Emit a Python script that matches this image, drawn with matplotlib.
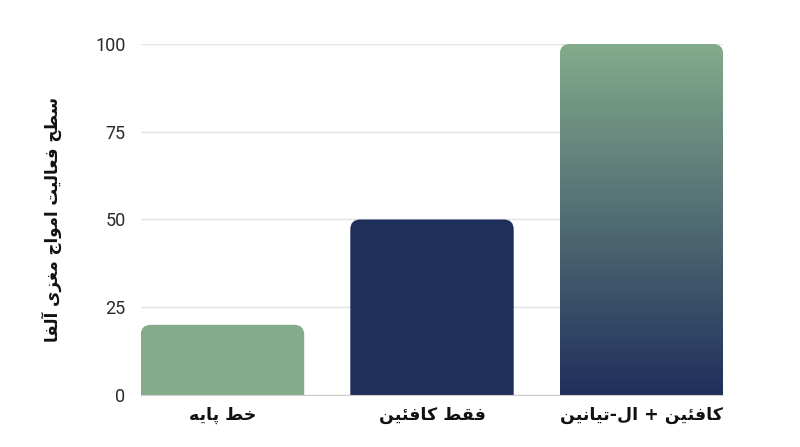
# %% Setup
import matplotlib

matplotlib.use("Agg")
import matplotlib.pyplot as plt
import numpy as np
from matplotlib.colors import LinearSegmentedColormap
from matplotlib.patches import FancyBboxPatch

plt.rcParams["font.family"] = ["Roboto", "DejaVu Sans"]

categories = ["خط پایه", "فقط کافئین", "کافئین + ال-تیانین"]
values = [20, 50, 100]
yticks = [0, 25, 50, 75, 100]
ylabel = "سطح فعالیت امواج مغزی آلفا"

green = "#84ab8b"
navy = "#1f2f5c"
bar_colors = [green, navy, None]  # None -> gradient green to navy

# %% Minimal Persian shaping (matplotlib has no complex text layout)
# forms: isolated, final, initial, medial
FORMS = {
    "ا": (0xFE8D, 0xFE8E), "آ": (0xFE81, 0xFE82), "ز": (0xFEAF, 0xFEB0),
    "و": (0xFEED, 0xFEEE),
    "ت": (0xFE95, 0xFE96, 0xFE97, 0xFE98), "ج": (0xFE9D, 0xFE9E, 0xFE9F, 0xFEA0),
    "ح": (0xFEA1, 0xFEA2, 0xFEA3, 0xFEA4), "خ": (0xFEA5, 0xFEA6, 0xFEA7, 0xFEA8),
    "س": (0xFEB1, 0xFEB2, 0xFEB3, 0xFEB4), "ط": (0xFEC1, 0xFEC2, 0xFEC3, 0xFEC4),
    "ع": (0xFEC9, 0xFECA, 0xFECB, 0xFECC), "غ": (0xFECD, 0xFECE, 0xFECF, 0xFED0),
    "ف": (0xFED1, 0xFED2, 0xFED3, 0xFED4), "ق": (0xFED5, 0xFED6, 0xFED7, 0xFED8),
    "ل": (0xFEDD, 0xFEDE, 0xFEDF, 0xFEE0), "م": (0xFEE1, 0xFEE2, 0xFEE3, 0xFEE4),
    "ن": (0xFEE5, 0xFEE6, 0xFEE7, 0xFEE8), "ه": (0xFEE9, 0xFEEA, 0xFEEB, 0xFEEC),
    "ئ": (0xFE89, 0xFE8A, 0xFE8B, 0xFE8C), "ی": (0xFBFC, 0xFBFD, 0xFBFE, 0xFBFF),
    "پ": (0xFB56, 0xFB57, 0xFB58, 0xFB59), "ک": (0xFB8E, 0xFB8F, 0xFB90, 0xFB91),
}


def shape(text):
    out = []
    for i, ch in enumerate(text):
        if ch not in FORMS:
            out.append(ch)
            continue
        prev = text[i - 1] if i > 0 else ""
        nxt = text[i + 1] if i + 1 < len(text) else ""
        join_prev = prev in FORMS and len(FORMS[prev]) == 4
        join_next = len(FORMS[ch]) == 4 and nxt in FORMS
        f = FORMS[ch]
        if join_prev and join_next:
            out.append(chr(f[3]))
        elif join_prev:
            out.append(chr(f[1]))
        elif join_next:
            out.append(chr(f[2]))
        else:
            out.append(chr(f[0]))
    return "".join(out)[::-1]


# %% Plot
fig = plt.figure(figsize=(8, 4.47), dpi=100)
ax = fig.add_axes([0.176, 0.1163, 0.728, 0.7853])

x = np.arange(len(categories))
width = 0.78
bars = ax.bar(x, values, width=width, color="none", edgecolor="none")
ax.set_xlim(-0.39, len(categories) - 1 + 0.39)
ax.set_ylim(0, 100)

# radius in pixels -> data units
fig.canvas.draw()
px_x = (ax.transData.transform((1, 0))[0] - ax.transData.transform((0, 0))[0])
px_y = (ax.transData.transform((0, 1))[1] - ax.transData.transform((0, 0))[1])
radius_px = 10
rx = radius_px / px_x
aspect = px_x / px_y

cmap = LinearSegmentedColormap.from_list("g2n", [navy, green])
for bar, color in zip(bars, bar_colors):
    x0, h = bar.get_x(), bar.get_height()
    w = bar.get_width()
    y0 = -radius_px / px_y * 2
    patch = FancyBboxPatch(
        (x0, y0), w, h - y0,
        boxstyle=f"round,pad=0,rounding_size={rx}",
        mutation_aspect=aspect,
        facecolor=color if color else "none",
        edgecolor="none",
        zorder=2,
    )
    ax.add_patch(patch)
    if color is None:
        grad = np.linspace(0, 1, 256).reshape(-1, 1)
        im = ax.imshow(
            grad, cmap=cmap, origin="lower", aspect="auto",
            extent=(x0, x0 + w, 0, h), zorder=2, interpolation="bilinear",
        )
        im.set_clip_path(patch)
ax.set_xlim(-0.39, len(categories) - 1 + 0.39)
ax.set_ylim(0, 100)

ax.set_yticks(yticks)
ax.set_xticks(x)
ax.set_xticklabels(
    [shape(c) for c in categories], family=["DejaVu Sans"],
    fontweight="bold", fontsize=12.5, color="#111111",
)
ax.tick_params(axis="y", length=0, pad=11, labelsize=13, labelcolor="#2a2a2a")
ax.tick_params(axis="x", length=0, pad=8)
ax.set_ylabel(
    shape(ylabel), family=["DejaVu Sans"], fontweight="bold",
    fontsize=12, color="#111111", labelpad=24,
)

ax.grid(axis="y", color="#e3e3e3", lw=1)
ax.set_axisbelow(True)
for side in ["top", "right", "left"]:
    ax.spines[side].set_visible(False)
ax.spines["bottom"].set_color("#cccccc")
ax.spines["bottom"].set_zorder(3)

fig.savefig("out.png", dpi=100)
